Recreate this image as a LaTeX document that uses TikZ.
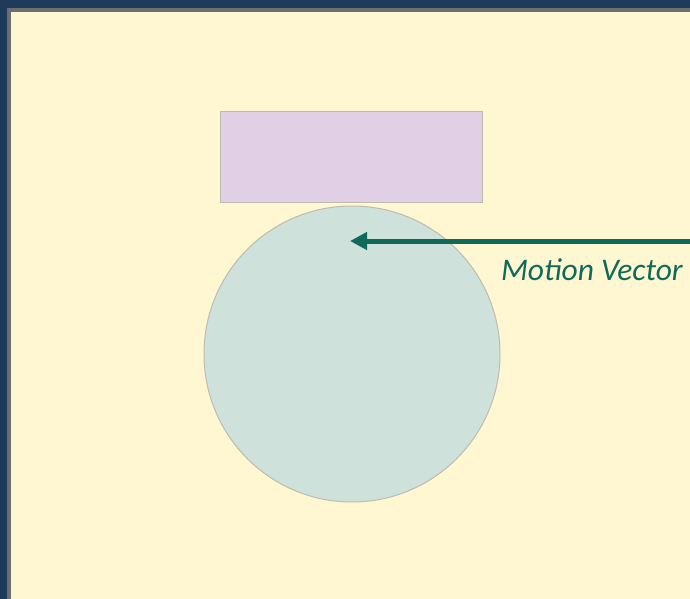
\documentclass[tikz,border=0pt]{standalone}
\usepackage{fontspec}
\setmainfont{Carlito}
\usetikzlibrary{positioning,arrows.meta}
\definecolor{FrameBlue}{HTML}{1F3B5B}
\definecolor{FrameGray}{HTML}{6E6E6E}
\definecolor{PaperCream}{HTML}{FFF7D2}
\definecolor{BlockLilac}{HTML}{E1D0E5}
\definecolor{BallMint}{HTML}{CFE1DB}
\definecolor{EdgeGray}{HTML}{BDBCAE}
\definecolor{VectorGreen}{HTML}{106A5A}
\begin{document}
\begin{tikzpicture}[x=1pt,y=-1pt,
  shapeline/.style={draw=EdgeGray, line width=1pt},
  every node/.style={inner sep=0pt, outer sep=0pt}]
  \useasboundingbox (0,0) rectangle (690,599);
  % frame and paper
  \fill[FrameBlue] (0,0) rectangle (690,599);
  \fill[FrameGray] (7,8) rectangle (690,599);
  \fill[PaperCream] (11,12) rectangle (690,599);
  % block and ball
  \node[shapeline, fill=BlockLilac, minimum width=262pt, minimum height=90pt]
    (block) at (351,157) {};
  \node[shapeline, fill=BallMint, circle, minimum size=296pt]
    (ball) at (352,354) {};
  % motion vector
  \coordinate (vecstart) at (690,241);
  \coordinate (vectip) at (350,241);
  \draw[VectorGreen, line width=5pt, -{Triangle[length=17pt,width=17pt]}]
    (vecstart) -- (vectip);
  \node[text=VectorGreen, font=\itshape\fontsize{31.5}{36}\selectfont,
    anchor=base west] (veclabel) at (501,280) {Motion Vector};
\end{tikzpicture}
\end{document}
